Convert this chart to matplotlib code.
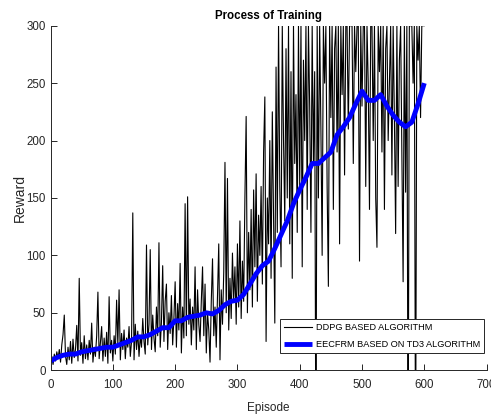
import matplotlib
matplotlib.use("Agg")
import matplotlib.pyplot as plt
import numpy as np

plt.rcParams['font.family'] = ['Liberation Sans', 'DejaVu Sans']

# DDPG episodes sampled every 2 episodes (0..600)
ddpg_episodes = list(range(0, 601, 2))
ddpg_reward = [
    6, 12, 5, 14, 8, 16, 10, 18, 7, 22,
    31, 48, 12, 5, 20, 9, 25, 6, 27, 11,
    18, 39, 8, 80, 13, 24, 6, 30, 10, 22,
    9, 26, 14, 41, 7, 20, 12, 30, 68, 10,
    24, 38, 8, 28, 12, 33, 6, 64, 15, 26,
    8, 30, 14, 61, 22, 70, 9, 32, 18, 35,
    10, 28, 20, 38, 12, 25, 137, 9, 40, 18,
    34, 12, 30, 20, 45, 25, 14, 109, 22, 40,
    105, 18, 48, 28, 16, 55, 30, 111, 20, 42,
    91, 25, 60, 75, 18, 50, 32, 65, 22, 45,
    77, 20, 58, 35, 93, 15, 55, 28, 145, 30,
    151, 40, 62, 22, 55, 35, 90, 18, 70, 40,
    25, 60, 90, 30, 75, 15, 50, 35, 7, 60,
    97, 30, 55, 20, 65, 110, 9, 70, 40, 85,
    181, 50, 167, 35, 80, 45, 102, 60, 90, 40,
    110, 55, 130, 45, 95, 60, 150, 221, 50, 120,
    70, 140, 55, 157, 90, 171, 60, 135, 100, 160,
    75, 190, 238, 25, 150, 110, 200, 80, 225, 130,
    41, 264, 120, 300, 160, 90, 300, 200, 130, 280,
    150, 300, 110, 260, 80, 300, 180, 240, 120, 300,
    160, 300, 90, 270, 200, 300, 140, 300, 230, 120,
    300, 180, 260, -100, 300, 150, 300, 210, 100, 300,
    250, 300, 160, 73, 300, 220, 300, 140, 280, 300,
    190, 300, 110, 300, 240, 300, 170, 300, 300, 210,
    300, 300, 300, 180, 300, 260, 300, 300, 95, 300,
    230, 300, 300, 160, 300, 250, 140, 300, 300, 200,
    300, 150, 107, 300, 260, 300, 190, 300, 140, 280,
    300, 200, 250, 300, 170, 300, 220, 119, 300, 160,
    270, 300, 190, 77, 300, 155, 300, -100, 300, 300,
    300, 250, 300, -100, 300, 270, 300, 220, 300, 300,
    300,
]

td3_episodes = list(range(0, 601, 10))
td3_reward = [
    8, 11, 13, 14, 14, 16, 17, 18, 19, 20,
    20, 22, 24, 26, 29, 29, 31, 34, 37, 37,
    43, 43, 46, 47, 48, 50, 49, 52, 57, 60,
    61, 66, 75, 84, 91, 95, 106, 118, 130, 145,
    157, 168, 180, 180, 185, 190, 205, 212, 220, 232,
    243, 235, 235, 240, 230, 222, 216, 212, 216, 232,
    250,
]

x_ticks = [0, 100, 200, 300, 400, 500, 600, 700]
y_ticks = [0, 50, 100, 150, 200, 250, 300]

fig = plt.figure(figsize=(4.91, 4.15), dpi=100)
ax = fig.add_axes([0.103, 0.108, 0.888, 0.830])

ax.plot(ddpg_episodes, ddpg_reward, color='black', lw=0.8,
        label='DDPG BASED ALGORITHM')
ax.plot(td3_episodes, td3_reward, color='#0000ff', lw=3.5,
        label='EECFRM BASED ON TD3 ALGORITHM', solid_joinstyle='round',
        solid_capstyle='butt')

ax.set_xlim(0, 700)
ax.set_ylim(0, 300)
ax.set_xticks(x_ticks)
ax.set_yticks(y_ticks)
axcol = '#262626'
for s in ['top', 'right']:
    ax.spines[s].set_visible(False)
for s in ['left', 'bottom']:
    ax.spines[s].set_color(axcol)
    ax.spines[s].set_linewidth(0.7)
ax.tick_params(direction='in', length=4, width=0.7, colors=axcol,
               labelsize=8.3)
ax.tick_params(axis='y', pad=3.5)
ax.tick_params(axis='x', pad=6)

ax.set_title('Process of Training', fontsize=8.3, fontweight='bold', pad=5)
ax.set_xlabel('Episode', fontsize=8.5, color=axcol, labelpad=8)
ax.set_ylabel('Reward', fontsize=10, color=axcol)
ax.yaxis.set_label_coords(-0.055, 0.5)

leg = ax.legend(loc='lower right', bbox_to_anchor=(0.994, 0.049),
                fontsize=6.6, frameon=True, fancybox=False,
                edgecolor=axcol, framealpha=1, handlelength=3.1,
                borderpad=0.45, labelspacing=0.85, handletextpad=0.35,
                borderaxespad=0)
leg.get_frame().set_linewidth(0.7)

fig.savefig('out.png', dpi=100)
